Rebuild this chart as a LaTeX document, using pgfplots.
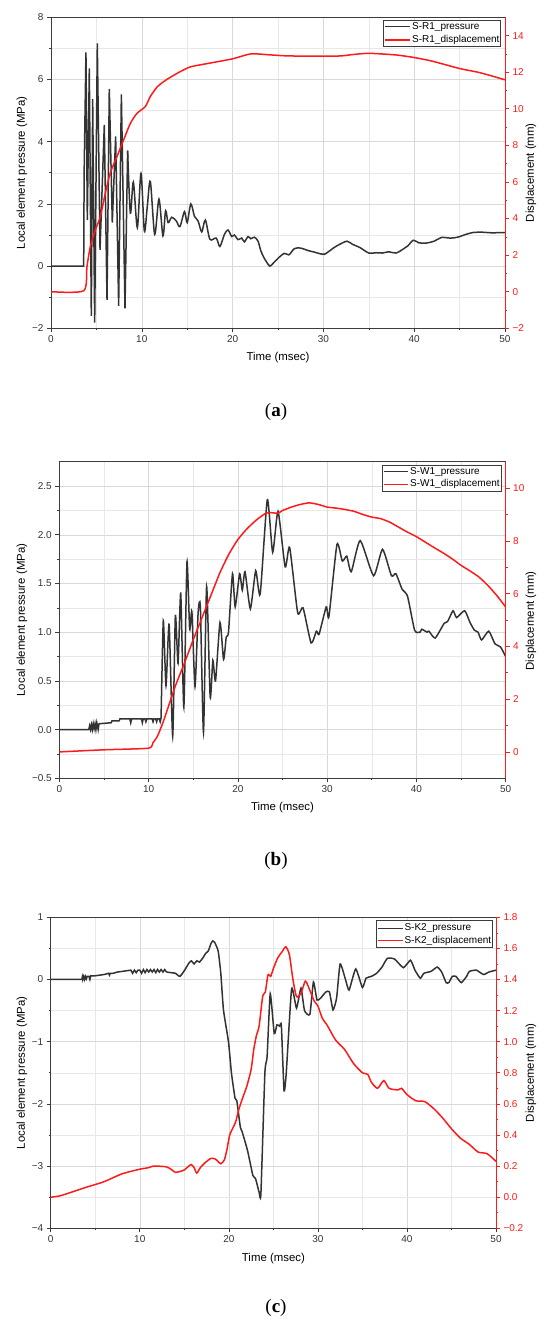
\documentclass[border=0pt]{standalone}
\usepackage{pgfplots}
\pgfplotsset{compat=1.18}
\usepackage{fontspec}
\setmainfont{Liberation Sans}
\newfontfamily\seriffont{Liberation Serif}
\definecolor{pline}{HTML}{333333}
\definecolor{axc}{HTML}{3C3C3C}
\definecolor{dred}{HTML}{FF1A1A}
\tikzset{lab/.style={font=\fontsize{11.4}{13}\selectfont},
  legt/.style={font=\fontsize{10}{11}\selectfont, anchor=west, inner sep=0pt, text=black}}
\pgfplotsset{
  base/.style={
    scale only axis, anchor=south west,
    xmin=0, xmax=50, xtick={0,10,...,50}, minor x tick num=1,
    /pgf/number format/assume math mode=true,
    tick label style={font=\fontsize{10}{12}\selectfont},
    tick align=outside,
    major tick length=4pt, minor tick length=2pt,
  },
  leftax/.style={base,
    axis line style={axc, line width=0.8pt},
    every tick/.style={axc, line width=0.6pt},
    xtick pos=left, ytick pos=left,
    grid=both,
    major grid style={gray!30, line width=0.5pt},
    minor grid style={gray!18, line width=0.45pt},
    tick label style={text=pline},
  },
  rightax/.style={base,
    axis x line=none, axis y line*=right,
    axis line style={dred, line width=0.8pt},
    every tick/.style={dred, line width=0.6pt},
    yticklabel style={text=dred},
  },
  pres/.style={draw=pline, line width=1.5pt},
  disp/.style={draw=dred, line width=1.5pt},
}
\begin{document}
\begin{tikzpicture}[x=1pt,y=1pt]
\path[use as bounding box] (0,0) rectangle (550,1325);

% ---------------- Panel (a) ----------------
\begin{axis}[leftax, at={(51pt,996.7pt)}, width=454pt, height=311pt,
  ymin=-2, ymax=8, ytick={-2,0,2,4,6,8}, minor y tick num=1,
  yticklabels={−2,0,2,4,6,8}]
\addplot[pres] coordinates {(0,0) (3.6,0) (3.65,3) (3.85,6.87) (4.0,1.48) (4.22,6.36) (4.44,-1.6) (4.59,5.37) (4.81,-1.82) (5.1,7.16) (5.4,0.52) (5.87,4.54) (6.17,-1.09) (6.42,5.7) (6.75,1.4) (7.12,4.17) (7.45,-1.28) (7.75,5.52) (8.15,-1.36) (8.44,3.71)};
\addplot[pres, smooth, tension=0.5] coordinates {(8.44,3.71) (8.74,1.7) (9.07,2.7) (9.51,1.24) (9.91,2.98) (10.28,1.13) (10.6,1.9) (10.94,2.72) (11.42,1.02) (11.89,2.15) (12.33,0.97) (12.62,1.78) (12.9,1.4) (13.3,1.57) (13.8,1.45) (14.2,1.27) (14.7,1.75) (15.0,1.4) (15.4,2.0) (15.8,1.6) (16.2,1.45) (16.6,1.1) (17.0,1.48) (17.5,0.86) (18.2,0.9) (18.6,0.63) (19.1,1.02) (19.5,1.16) (19.9,0.95) (20.2,1.0) (20.6,0.85) (21.0,0.9) (21.3,0.78) (21.7,0.95) (22.0,0.88) (22.4,0.93) (22.8,0.8) (23.1,0.5) (23.4,0.3) (23.7,0.15) (24.1,0.0) (24.5,0.1) (25.0,0.25) (25.7,0.41) (26.2,0.36) (26.8,0.56) (27.5,0.58) (28.3,0.5) (29.0,0.45) (29.6,0.4) (30.1,0.38) (30.5,0.45) (31.2,0.6) (31.8,0.7) (32.6,0.8) (33.2,0.7) (34.0,0.6) (35.0,0.42) (35.8,0.43) (36.5,0.42) (37.2,0.46) (38.0,0.42) (38.8,0.55) (39.3,0.65) (39.9,0.83) (40.5,0.75) (41.3,0.74) (42.2,0.8) (43.0,0.92) (44.0,0.9) (44.8,0.93) (45.7,1.02) (46.5,1.08) (47.5,1.09) (48.5,1.07) (50,1.08)};
\end{axis}
\begin{axis}[rightax, at={(51pt,996.7pt)}, width=454pt, height=311pt,
  ymin=-2, ymax=15, ytick={-2,0,2,4,6,8,10,12,14}, minor y tick num=1,
  yticklabels={−2,0,2,4,6,8,10,12,14}]
\addplot[disp, smooth, tension=0.4] coordinates {(0,0) (3.6,0.05) (3.96,1.37) (4.33,2.47) (4.88,3.37) (5.43,4.1) (5.98,5.38) (6.53,6.5) (7.27,7.39) (8.0,8.3) (8.74,9.2) (9.47,9.75) (10.39,10.12) (10.94,10.67) (11.67,11.18) (12.4,11.48) (13.14,11.72) (14.24,12.03) (15.35,12.29) (17,12.45) (20,12.73) (22,13.0) (24,12.95) (26,12.89) (30,12.87) (32,12.89) (33,12.95) (35,13.03) (38,12.94) (40,12.8) (42,12.6) (45,12.2) (47,12.0) (48.5,11.8) (50,11.58)};
\end{axis}
\node[lab, rotate=90] at (22,1152.2) {Local element pressure (MPa)};
\node[lab, rotate=90] at (531,1152.2) {Displacement (mm)};
\node[lab] at (278,967) {Time (msec)};
\node[font=\seriffont\fontsize{19}{22}\selectfont] at (276,913.3) {(\textbf{a})};
% legend (a)
\draw[fill=white, draw=axc, line width=0.7pt] (383.3,1305) rectangle (500,1278.3);
\draw[draw=pline, line width=1.5pt] (385,1298.3) -- (410,1298.3);
\draw[draw=dred, line width=1.5pt] (385,1285) -- (410,1285);
\node[legt] at (412,1298.3) {S-R1\_pressure};
\node[legt] at (412,1285) {S-R1\_displacement};

% ---------------- Panel (b) ----------------
\begin{axis}[leftax, at={(59.3pt,546.7pt)}, width=446.4pt, height=316.6pt,
  ymin=-0.5, ymax=2.75, ytick={-0.5,0,0.5,1,1.5,2,2.5}, minor y tick num=1,
  yticklabels={−0.5,0.0,0.5,1.0,1.5,2.0,2.5}]
\addplot[pres] coordinates {(0,0) (3.3,0) (3.4,0.04) (3.5,0.0) (3.6,0.05) (3.7,0.0) (3.8,0.06) (3.9,0.01) (4.0,0.06) (4.1,0.0) (4.2,0.07) (4.35,0.0) (4.45,0.06) (5.8,0.07) (5.9,0.09) (6.7,0.09) (6.8,0.11) (7.9,0.11) (8.0,0.07) (8.1,0.11) (9.2,0.11) (9.3,0.07) (9.4,0.11) (9.6,0.11) (9.7,0.08) (9.8,0.11) (10.4,0.11) (10.5,0.08) (10.6,0.11) (10.8,0.11) (10.9,0.08) (11.0,0.11) (11.2,0.11) (11.3,0.08) (11.4,0.12)};
\addplot[pres, smooth, tension=0.35] coordinates {(11.4,0.12) (11.65,1.12) (11.95,0.45) (12.3,1.08) (12.7,-0.07) (13.0,1.17) (13.3,0.68) (13.6,1.4) (13.95,0.23) (14.3,1.72) (14.6,1.03) (14.85,1.21) (15.2,0.44) (15.55,1.2) (15.8,1.26) (16.15,-0.03) (16.5,1.47) (16.9,0.33) (17.2,0.71) (17.5,0.5) (18.0,1.1) (18.4,0.72) (18.7,0.95) (18.95,1.0) (19.4,1.6) (19.7,1.26) (20.2,1.6) (20.5,1.43) (20.8,1.62) (21.4,1.24) (22.0,1.63) (22.5,1.39) (23.3,2.36) (23.9,1.82) (24.5,2.24) (25.3,1.67) (25.8,1.87) (26.7,1.2) (27.3,1.25) (28.2,0.89) (28.8,1.01) (29.1,0.98) (29.9,1.26) (30.2,1.16) (31.1,1.9) (31.7,1.73) (32.2,1.78) (32.7,1.62) (33.7,1.94) (35.2,1.58) (36.2,1.85) (37.2,1.58) (37.7,1.6) (38.4,1.44) (39.0,1.37) (39.8,1.02) (40.4,1.0) (40.6,1.03) (41.2,1.0) (41.4,1.01) (42.1,0.94) (43.1,1.09) (43.5,1.11) (44.1,1.22) (44.5,1.15) (45.4,1.22) (46.0,1.1) (46.5,1.02) (46.9,1.0) (47.3,0.92) (48.1,1.01) (48.8,0.88) (49.4,0.85) (50,0.75)};
\end{axis}
\begin{axis}[rightax, at={(59.3pt,546.7pt)}, width=446.4pt, height=316.6pt,
  ymin=-1, ymax=11, ytick={0,2,4,6,8,10}, minor y tick num=1]
\addplot[disp, smooth, tension=0.3] coordinates {(0,0) (5,0.08) (10,0.14) (10.5,0.35) (11,0.6) (11.6,1.1) (12,1.5) (13,2.5) (14,3.35) (15,4.25) (16,5.1) (17,5.95) (18,6.8) (19,7.5) (20,8.05) (21,8.45) (22,8.77) (23,9.02) (23.5,9.07) (24.5,9.05) (25,9.15) (26,9.28) (27,9.38) (28,9.44) (29,9.38) (30,9.28) (31,9.24) (32,9.19) (33,9.12) (34,9.0) (35,8.9) (36,8.84) (37,8.71) (38,8.52) (39,8.33) (40,8.16) (41,7.95) (42,7.74) (43,7.54) (44,7.32) (45,7.07) (46,6.86) (47,6.63) (48,6.31) (49,5.93) (50,5.49)};
\end{axis}
\node[lab, rotate=90] at (22,705) {Local element pressure (MPa)};
\node[lab, rotate=90] at (531,704) {Displacement (mm)};
\node[lab] at (282.5,517.3) {Time (msec)};
\node[font=\seriffont\fontsize{19}{22}\selectfont] at (276,464) {(\textbf{b})};
% legend (b)
\draw[fill=white, draw=axc, line width=0.7pt] (382.3,860) rectangle (501.7,833.3);
\draw[draw=pline, line width=1.5pt] (383.5,853.3) -- (408.3,853.3);
\draw[draw=dred, line width=1.5pt] (383.5,840.7) -- (408.3,840.7);
\node[legt] at (410,853.3) {S-W1\_pressure};
\node[legt] at (410,840.7) {S-W1\_displacement};

% ---------------- Panel (c) ----------------
\begin{axis}[leftax, at={(50.7pt,96.7pt)}, width=445.3pt, height=311pt,
  ymin=-4, ymax=1, ytick={-4,-3,-2,-1,0,1}, minor y tick num=1,
  yticklabels={−4,−3,−2,−1,0,1}]
\addplot[pres] coordinates {(0,0) (3.5,0) (3.55,0.04) (3.6,0.0) (3.7,0.05) (3.8,0.0) (3.9,0.05) (4.0,0.01) (4.1,0.05) (4.3,0.05) (4.4,0.0) (4.5,0.06) (5,0.06) (6,0.08) (6.5,0.1) (6.6,0.07) (6.7,0.1) (7,0.1) (7.5,0.12) (8,0.13) (9,0.15) (9.2,0.1) (9.4,0.15) (9.6,0.11) (9.8,0.15) (10,0.15) (10.2,0.1) (10.4,0.16) (10.6,0.11) (10.8,0.16) (11,0.12) (11.2,0.16) (11.4,0.12) (11.6,0.16) (11.8,0.11) (12,0.16) (12.2,0.12) (12.4,0.16) (12.6,0.12) (12.8,0.16) (13,0.12)};
\addplot[pres, smooth, tension=0.3] coordinates {(13,0.12) (13.5,0.11) (14,0.1) (14.5,0.05) (15,0.14) (15.5,0.26) (15.8,0.3) (16.1,0.25) (16.4,0.3) (16.7,0.28) (17.1,0.35) (17.4,0.42) (17.7,0.46) (18.0,0.58) (18.2,0.62) (18.4,0.6) (18.8,0.46) (19.1,0.1) (19.4,-0.49) (19.96,-1.0) (20.3,-1.51) (20.7,-1.91) (20.9,-1.95) (21.3,-2.38) (21.5,-2.45) (22.1,-2.75) (22.7,-3.15) (23.0,-3.2) (23.4,-3.42) (23.6,-3.45) (24.05,-1.5) (24.3,-1.24) (24.65,-0.23) (25.1,-0.87) (25.4,-0.73) (25.7,-0.75) (25.9,-0.74) (26.2,-1.79) (26.45,-1.5) (27.05,-0.15) (27.6,-0.46) (28.1,-0.14) (28.5,-0.5) (29.1,-0.56) (29.5,-0.04) (29.9,-0.33) (30.3,-0.3) (30.9,-0.2) (31.3,-0.2) (31.7,-0.49) (32.1,-0.3) (32.5,0.25) (33.1,0.0) (33.5,-0.17) (34.25,0.17) (35.0,-0.13) (35.4,0.02) (36.0,0.05) (36.6,0.1) (37.2,0.2) (37.8,0.34) (38.6,0.33) (39.6,0.19) (40.4,0.31) (40.9,0.15) (41.5,0.02) (41.9,0.1) (42.7,0.13) (43.4,0.2) (43.9,0.12) (44.4,-0.05) (44.7,-0.05) (45.1,0.05) (45.5,0.05) (46.1,-0.05) (46.7,0.05) (47.0,0.13) (47.8,0.15) (48.6,0.08) (49.2,0.12) (50,0.15)};
\end{axis}
\begin{axis}[rightax, at={(50.7pt,96.7pt)}, width=445.3pt, height=311pt,
  ymin=-0.2, ymax=1.8, ytick={-0.2,0,0.2,0.4,0.6,0.8,1.0,1.2,1.4,1.6,1.8}, minor y tick num=1,
  yticklabels={−0.2,0.0,0.2,0.4,0.6,0.8,1.0,1.2,1.4,1.6,1.8}]
\addplot[disp, smooth, tension=0.4] coordinates {(0,0) (1,0.008) (2,0.026) (3,0.045) (4,0.064) (6,0.10) (8,0.15) (10,0.18) (11,0.19) (11.5,0.2) (12,0.2) (13,0.195) (13.5,0.18) (14,0.16) (14.5,0.165) (15,0.175) (15.5,0.2) (15.8,0.21) (16.1,0.19) (16.4,0.155) (16.8,0.19) (17.3,0.22) (18,0.25) (18.5,0.245) (18.7,0.235) (19.1,0.215) (19.5,0.24) (19.8,0.31) (20.1,0.4) (20.5,0.45) (20.8,0.49) (21.1,0.56) (21.5,0.63) (22,0.71) (22.5,0.82) (22.8,0.95) (23.1,1.04) (23.4,1.1) (23.8,1.29) (24.1,1.32) (24.4,1.43) (24.7,1.42) (25,1.47) (25.5,1.54) (26,1.58) (26.4,1.61) (26.8,1.56) (27.2,1.4) (27.6,1.29) (28.1,1.31) (28.6,1.39) (29.1,1.33) (29.6,1.26) (30,1.23) (30.5,1.15) (31,1.11) (32,1.01) (33,0.95) (34,0.86) (35,0.8) (35.6,0.79) (36,0.74) (36.7,0.7) (37.4,0.75) (38,0.70) (39,0.69) (39.4,0.70) (40,0.66) (41,0.62) (42,0.615) (43,0.57) (44,0.51) (45,0.44) (46,0.38) (47,0.34) (48,0.29) (49,0.28) (50,0.23)};
\end{axis}
\node[lab, rotate=90] at (22,252.2) {Local element pressure (MPa)};
\node[lab, rotate=90] at (531,252.2) {Displacement (mm)};
\node[lab] at (273.4,66.7) {Time (msec)};
\node[font=\seriffont\fontsize{19}{22}\selectfont] at (276,17.5) {(\textbf{c})};
% legend (c)
\draw[fill=white, draw=axc, line width=0.7pt] (376.7,404.3) rectangle (492.3,377.3);
\draw[draw=pline, line width=1.5pt] (377.9,396.7) -- (402.7,396.7);
\draw[draw=dred, line width=1.5pt] (377.9,384.3) -- (402.7,384.3);
\node[legt] at (404.3,396.7) {S-K2\_pressure};
\node[legt] at (404.3,384.3) {S-K2\_displacement};
\end{tikzpicture}
\end{document}
